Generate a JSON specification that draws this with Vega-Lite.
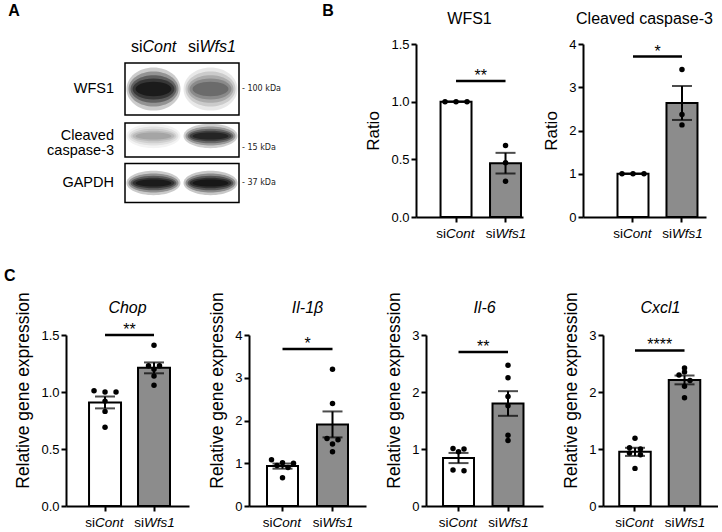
{
 "$schema": "https://vega.github.io/schema/vega-lite/v6.json",
 "background": "white",
 "padding": {"left": 3, "top": 2, "right": 0, "bottom": 0},
 "config": {
  "font": "Liberation Sans",
  "view": {"stroke": null},
  "axis": {"domainColor": "black", "domainWidth": 2, "tickColor": "black", "tickWidth": 2, "tickSize": 5, "labelColor": "black", "labelFontSize": 13, "labelPadding": 2, "titleColor": "black", "titleFontSize": 17, "titleFontWeight": "normal", "grid": false, "titlePadding": 8},
  "title": {"fontSize": 16, "fontWeight": "normal", "color": "black"}
 },
 "datasets": {
  "points": [
   {"panel": "WFS1", "group": "siCont", "value": 1.0},
   {"panel": "WFS1", "group": "siCont", "value": 1.0},
   {"panel": "WFS1", "group": "siCont", "value": 1.0},
   {"panel": "WFS1", "group": "siWfs1", "value": 0.62},
   {"panel": "WFS1", "group": "siWfs1", "value": 0.47},
   {"panel": "WFS1", "group": "siWfs1", "value": 0.31},
   {"panel": "Casp3", "group": "siCont", "value": 1.0},
   {"panel": "Casp3", "group": "siCont", "value": 1.0},
   {"panel": "Casp3", "group": "siCont", "value": 1.0},
   {"panel": "Casp3", "group": "siWfs1", "value": 3.41},
   {"panel": "Casp3", "group": "siWfs1", "value": 2.37},
   {"panel": "Casp3", "group": "siWfs1", "value": 2.13},
   {"panel": "Chop", "group": "siCont", "value": 1.01},
   {"panel": "Chop", "group": "siCont", "value": 1.0},
   {"panel": "Chop", "group": "siCont", "value": 1.0},
   {"panel": "Chop", "group": "siCont", "value": 0.92},
   {"panel": "Chop", "group": "siCont", "value": 0.83},
   {"panel": "Chop", "group": "siCont", "value": 0.69},
   {"panel": "Chop", "group": "siWfs1", "value": 1.41},
   {"panel": "Chop", "group": "siWfs1", "value": 1.23},
   {"panel": "Chop", "group": "siWfs1", "value": 1.23},
   {"panel": "Chop", "group": "siWfs1", "value": 1.2},
   {"panel": "Chop", "group": "siWfs1", "value": 1.14},
   {"panel": "Chop", "group": "siWfs1", "value": 1.06},
   {"panel": "Il1b", "group": "siCont", "value": 1.08},
   {"panel": "Il1b", "group": "siCont", "value": 1.01},
   {"panel": "Il1b", "group": "siCont", "value": 1.0},
   {"panel": "Il1b", "group": "siCont", "value": 0.95},
   {"panel": "Il1b", "group": "siCont", "value": 0.9},
   {"panel": "Il1b", "group": "siCont", "value": 0.66},
   {"panel": "Il1b", "group": "siWfs1", "value": 3.2},
   {"panel": "Il1b", "group": "siWfs1", "value": 2.4},
   {"panel": "Il1b", "group": "siWfs1", "value": 1.58},
   {"panel": "Il1b", "group": "siWfs1", "value": 1.55},
   {"panel": "Il1b", "group": "siWfs1", "value": 1.45},
   {"panel": "Il1b", "group": "siWfs1", "value": 1.27},
   {"panel": "Il6", "group": "siCont", "value": 1.01},
   {"panel": "Il6", "group": "siCont", "value": 1.0},
   {"panel": "Il6", "group": "siCont", "value": 0.95},
   {"panel": "Il6", "group": "siCont", "value": 0.63},
   {"panel": "Il6", "group": "siCont", "value": 0.62},
   {"panel": "Il6", "group": "siWfs1", "value": 2.47},
   {"panel": "Il6", "group": "siWfs1", "value": 2.25},
   {"panel": "Il6", "group": "siWfs1", "value": 1.92},
   {"panel": "Il6", "group": "siWfs1", "value": 1.76},
   {"panel": "Il6", "group": "siWfs1", "value": 1.24},
   {"panel": "Il6", "group": "siWfs1", "value": 1.15},
   {"panel": "Cxcl1", "group": "siCont", "value": 1.19},
   {"panel": "Cxcl1", "group": "siCont", "value": 1.02},
   {"panel": "Cxcl1", "group": "siCont", "value": 1.0},
   {"panel": "Cxcl1", "group": "siCont", "value": 0.93},
   {"panel": "Cxcl1", "group": "siCont", "value": 0.9},
   {"panel": "Cxcl1", "group": "siCont", "value": 0.66},
   {"panel": "Cxcl1", "group": "siWfs1", "value": 2.42},
   {"panel": "Cxcl1", "group": "siWfs1", "value": 2.35},
   {"panel": "Cxcl1", "group": "siWfs1", "value": 2.3},
   {"panel": "Cxcl1", "group": "siWfs1", "value": 2.2},
   {"panel": "Cxcl1", "group": "siWfs1", "value": 2.1},
   {"panel": "Cxcl1", "group": "siWfs1", "value": 1.9}
  ],
  "sig": [
   {"panel": "WFS1", "y": 1.18, "stars": "**"},
   {"panel": "Casp3", "y": 3.71, "stars": "*"},
   {"panel": "Chop", "y": 1.5, "stars": "**"},
   {"panel": "Il1b", "y": 3.67, "stars": "*"},
   {"panel": "Il6", "y": 2.7, "stars": "**"},
   {"panel": "Cxcl1", "y": 2.73, "stars": "****"}
  ],
  "blot": [
   {"protein": "WFS1", "lane": "siCont", "intensity": 1.0, "kda": "- 100 kDa"},
   {"protein": "WFS1", "lane": "siWfs1", "intensity": 0.45, "kda": "- 100 kDa"},
   {"protein": "Cleaved caspase-3", "lane": "siCont", "intensity": 0.22, "kda": "- 15 kDa"},
   {"protein": "Cleaved caspase-3", "lane": "siWfs1", "intensity": 0.85, "kda": "- 15 kDa"},
   {"protein": "GAPDH", "lane": "siCont", "intensity": 0.95, "kda": "- 37 kDa"},
   {"protein": "GAPDH", "lane": "siWfs1", "intensity": 1.0, "kda": "- 37 kDa"}
  ]
 },
 "spacing": 26,
 "vconcat": [
  {
   "hconcat": [
    {
     "width": 290, "height": 173,
     "data": {"name": "blot"},
     "encoding": {
      "x": {"field": "lane", "type": "nominal", "scale": {"domain": ["siCont", "siWfs1"], "range": [59, 173], "paddingInner": 0, "paddingOuter": 0}, "axis": null},
      "y": {"field": "protein", "type": "nominal", "scale": {"domain": ["WFS1", "Cleaved caspase-3", "GAPDH"], "paddingInner": 0, "paddingOuter": 0.34, "align": 0.672}, "axis": null}
     },
     "layer": [
      {"transform": [{"filter": "datum.lane === 'siCont' && datum.protein === 'WFS1'"}], "mark": {"type": "rect", "fill": "white", "stroke": "black", "strokeWidth": 1.5}, "encoding": {"x": {"datum": "siCont", "bandPosition": 0}, "x2": {"datum": "siWfs1", "bandPosition": 1}, "y": {"field": "protein", "type": "nominal", "bandPosition": -0.053}, "y2": {"field": "protein", "bandPosition": 1.053}}},
      {"transform": [{"filter": "datum.lane === 'siCont' && datum.protein === 'Cleaved caspase-3'"}], "mark": {"type": "rect", "fill": "white", "stroke": "black", "strokeWidth": 1.5}, "encoding": {"x": {"datum": "siCont", "bandPosition": 0}, "x2": {"datum": "siWfs1", "bandPosition": 1}, "y": {"field": "protein", "type": "nominal", "bandPosition": 0.223}, "y2": {"field": "protein", "bandPosition": 0.947}}},
      {"transform": [{"filter": "datum.lane === 'siCont' && datum.protein === 'GAPDH'"}], "mark": {"type": "rect", "fill": "white", "stroke": "black", "strokeWidth": 1.5}, "encoding": {"x": {"datum": "siCont", "bandPosition": 0}, "x2": {"datum": "siWfs1", "bandPosition": 1}, "y": {"field": "protein", "type": "nominal", "bandPosition": 0.085}, "y2": {"field": "protein", "bandPosition": 0.915}}},
      {"transform": [{"filter": "datum.protein === 'WFS1'"}], "mark": {"type": "point", "filled": true, "color": "black", "strokeWidth": 0, "shape": "M-1,0A1,0.8,0,1,1,1,0A1,0.8,0,1,1,-1,0Z", "size": 2916}, "encoding": {"opacity": {"field": "intensity", "type": "quantitative", "scale": {"domain": [0, 1], "range": [0, 0.2]}, "legend": null}}},
      {"transform": [{"filter": "datum.protein === 'WFS1'"}], "mark": {"type": "point", "filled": true, "color": "black", "strokeWidth": 0, "shape": "M-1,0A1,0.7,0,1,1,1,0A1,0.7,0,1,1,-1,0Z", "size": 2500}, "encoding": {"opacity": {"field": "intensity", "type": "quantitative", "scale": {"domain": [0, 1], "range": [0, 0.28]}, "legend": null}}},
      {"transform": [{"filter": "datum.protein === 'WFS1'"}], "mark": {"type": "point", "filled": true, "color": "black", "strokeWidth": 0, "shape": "M-1,0A1,0.6,0,1,1,1,0A1,0.6,0,1,1,-1,0Z", "size": 2116}, "encoding": {"opacity": {"field": "intensity", "type": "quantitative", "scale": {"domain": [0, 1], "range": [0, 0.35]}, "legend": null}}},
      {"transform": [{"filter": "datum.protein === 'WFS1'"}], "mark": {"type": "point", "filled": true, "color": "black", "strokeWidth": 0, "shape": "M-1,0A1,0.5,0,1,1,1,0A1,0.5,0,1,1,-1,0Z", "size": 1764}, "encoding": {"opacity": {"field": "intensity", "type": "quantitative", "scale": {"domain": [0, 1], "range": [0, 0.42]}, "legend": null}}},
      {"transform": [{"filter": "datum.protein === 'WFS1'"}], "mark": {"type": "point", "filled": true, "color": "black", "strokeWidth": 0, "shape": "M-1,0A1,0.4,0,1,1,1,0A1,0.4,0,1,1,-1,0Z", "size": 1296}, "encoding": {"opacity": {"field": "intensity", "type": "quantitative", "scale": {"domain": [0, 1], "range": [0, 0.5]}, "legend": null}}},
      {"transform": [{"filter": "datum.protein !== 'WFS1'"}], "mark": {"type": "point", "filled": true, "color": "black", "strokeWidth": 0, "shape": "M-1,0A1,0.45,0,1,1,1,0A1,0.45,0,1,1,-1,0Z", "size": 2916}, "encoding": {"opacity": {"field": "intensity", "type": "quantitative", "scale": {"domain": [0, 1], "range": [0, 0.22]}, "legend": null}}},
      {"transform": [{"filter": "datum.protein !== 'WFS1'"}], "mark": {"type": "point", "filled": true, "color": "black", "strokeWidth": 0, "shape": "M-1,0A1,0.38,0,1,1,1,0A1,0.38,0,1,1,-1,0Z", "size": 2500}, "encoding": {"opacity": {"field": "intensity", "type": "quantitative", "scale": {"domain": [0, 1], "range": [0, 0.3]}, "legend": null}}},
      {"transform": [{"filter": "datum.protein !== 'WFS1'"}], "mark": {"type": "point", "filled": true, "color": "black", "strokeWidth": 0, "shape": "M-1,0A1,0.32,0,1,1,1,0A1,0.32,0,1,1,-1,0Z", "size": 2116}, "encoding": {"opacity": {"field": "intensity", "type": "quantitative", "scale": {"domain": [0, 1], "range": [0, 0.38]}, "legend": null}}},
      {"transform": [{"filter": "datum.protein !== 'WFS1'"}], "mark": {"type": "point", "filled": true, "color": "black", "strokeWidth": 0, "shape": "M-1,0A1,0.25,0,1,1,1,0A1,0.25,0,1,1,-1,0Z", "size": 1764}, "encoding": {"opacity": {"field": "intensity", "type": "quantitative", "scale": {"domain": [0, 1], "range": [0, 0.45]}, "legend": null}}},
      {"transform": [{"filter": "datum.protein !== 'WFS1'"}], "mark": {"type": "point", "filled": true, "color": "black", "strokeWidth": 0, "shape": "M-1,0A1,0.2,0,1,1,1,0A1,0.2,0,1,1,-1,0Z", "size": 1296}, "encoding": {"opacity": {"field": "intensity", "type": "quantitative", "scale": {"domain": [0, 1], "range": [0, 0.5]}, "legend": null}}},
      {"transform": [{"filter": "datum.lane === 'siCont'"}], "mark": {"type": "text", "align": "right", "baseline": "middle", "dx": -11, "fontSize": 14.5, "lineBreak": " ", "lineHeight": 15, "color": "black"}, "encoding": {"x": {"datum": "siCont", "bandPosition": 0}, "text": {"field": "protein"}}},
      {"transform": [{"filter": "datum.lane === 'siCont' && datum.protein !== 'Cleaved caspase-3'"}], "mark": {"type": "text", "align": "left", "baseline": "middle", "dx": 3, "fontSize": 8, "font": "DejaVu Sans", "color": "#222"}, "encoding": {"x": {"datum": "siWfs1", "bandPosition": 1}, "text": {"field": "kda"}}},
      {"transform": [{"filter": "datum.lane === 'siCont' && datum.protein === 'Cleaved caspase-3'"}], "mark": {"type": "text", "align": "left", "baseline": "middle", "dx": 3, "dy": 12, "fontSize": 8, "font": "DejaVu Sans", "color": "#222"}, "encoding": {"x": {"datum": "siWfs1", "bandPosition": 1}, "text": {"field": "kda"}}},
      {"transform": [{"filter": "datum.protein === 'WFS1'"}], "mark": {"type": "text", "text": "si", "align": "right", "baseline": "alphabetic", "dx": -11, "dy": -37, "fontSize": 16, "color": "black"}, "encoding": {"y": {"datum": "WFS1"}}},
      {"transform": [{"filter": "datum.protein === 'WFS1'"}, {"calculate": "substring(datum.lane, 2)", "as": "suf"}], "mark": {"type": "text", "align": "left", "baseline": "alphabetic", "dx": -11, "dy": -37, "fontSize": 16, "fontStyle": "italic", "color": "black"}, "encoding": {"y": {"datum": "WFS1"}, "text": {"field": "suf"}}},
      {"transform": [{"filter": "datum.protein === 'WFS1' && datum.lane === 'siCont'"}], "mark": {"type": "text", "text": "A", "align": "center", "baseline": "alphabetic", "dx": -139.5, "dy": -73, "fontSize": 16, "fontWeight": "bold", "color": "black"}, "encoding": {"x": {"datum": "siCont"}, "y": {"datum": "WFS1"}}},
      {"transform": [{"filter": "datum.protein === 'WFS1' && datum.lane === 'siCont'"}], "mark": {"type": "text", "text": "B", "align": "center", "baseline": "alphabetic", "dx": 89, "dy": -73, "fontSize": 16, "fontWeight": "bold", "color": "black"}, "encoding": {"x": {"datum": "siWfs1", "bandPosition": 1}, "y": {"datum": "WFS1"}}}
     ],
     "resolve": {"scale": {"opacity": "independent"}}
    },
    {
     "width": 107, "height": 173,
     "title": {"text": "WFS1", "offset": 11},
     "data": {"name": "points"},
     "encoding": {"x": {"field": "group", "type": "nominal", "scale": {"domain": ["siCont", "siWfs1"], "paddingInner": 0.374, "paddingOuter": 0.268, "align": 0.925}, "axis": {"labels": false, "title": null}}},
     "layer": [
      {"transform": [{"filter": "datum.panel === 'WFS1'"}], "mark": {"type": "bar", "stroke": "black", "strokeWidth": 2}, "encoding": {"y": {"aggregate": "mean", "field": "value", "type": "quantitative", "title": "Ratio", "scale": {"domain": [0, 1.5], "nice": false}, "axis": {"values": [0, 0.5, 1, 1.5], "format": ".1f"}}, "fill": {"field": "group", "type": "nominal", "scale": {"domain": ["siCont", "siWfs1"], "range": ["#ffffff", "#8c8c8c"]}, "legend": null}}},
      {"transform": [{"filter": "datum.panel === 'WFS1'"}, {"calculate": "floor(datum.value / 0.05)", "as": "ybin"}, {"window": [{"op": "row_number", "as": "r"}, {"op": "count", "as": "n"}], "groupby": ["group", "ybin"], "frame": [null, null]}, {"calculate": "datum.r - (datum.n + 1) / 2", "as": "off"}], "mark": {"type": "point", "filled": true, "color": "black", "opacity": 1, "size": 30}, "encoding": {"y": {"field": "value", "type": "quantitative", "title": "Ratio", "scale": {"domain": [0, 1.5], "nice": false}}, "xOffset": {"field": "off", "type": "quantitative", "scale": {"domain": [-1, 1], "range": [4.5, 26.5]}}}},
      {"transform": [{"filter": "datum.panel === 'WFS1'"}], "mark": {"type": "errorbar", "extent": "stderr", "color": "black", "thickness": 2, "ticks": {"size": 20}}, "encoding": {"y": {"field": "value", "type": "quantitative", "title": "Ratio", "scale": {"domain": [0, 1.5], "nice": false}}}},
      {"data": {"name": "sig"}, "transform": [{"filter": "datum.panel === 'WFS1'"}], "mark": {"type": "rule", "color": "black", "strokeWidth": 2.5}, "encoding": {"x": {"datum": "siCont"}, "x2": {"datum": "siWfs1"}, "y": {"field": "y", "type": "quantitative", "title": "Ratio", "scale": {"domain": [0, 1.5], "nice": false}}}},
      {"data": {"name": "sig"}, "transform": [{"filter": "datum.panel === 'WFS1'"}], "mark": {"type": "text", "align": "center", "baseline": "alphabetic", "dx": 24.75, "fontSize": 16, "color": "black"}, "encoding": {"x": {"datum": "siCont"}, "y": {"field": "y", "type": "quantitative", "title": "Ratio", "scale": {"domain": [0, 1.5], "nice": false}}, "text": {"field": "stars"}}},
      {"transform": [{"filter": "datum.panel === 'WFS1'"}, {"aggregate": [{"op": "count", "as": "n"}], "groupby": ["group"]}], "mark": {"type": "text", "text": "si", "align": "right", "baseline": "alphabetic", "dx": -10, "dy": 21, "fontSize": 13.5, "color": "black"}, "encoding": {"y": {"datum": 0, "type": "quantitative", "scale": {"domain": [0, 1.5], "nice": false}}}},
      {"transform": [{"filter": "datum.panel === 'WFS1'"}, {"aggregate": [{"op": "count", "as": "n"}], "groupby": ["group"]}, {"calculate": "substring(datum.group, 2)", "as": "suf"}], "mark": {"type": "text", "align": "left", "baseline": "alphabetic", "dx": -10, "dy": 21, "fontSize": 13.5, "fontStyle": "italic", "color": "black"}, "encoding": {"y": {"datum": 0, "type": "quantitative", "scale": {"domain": [0, 1.5], "nice": false}}, "text": {"field": "suf"}}}
     ],
     "resolve": {"scale": {"xOffset": "independent"}}
    },
    {
     "width": 123, "height": 173,
     "title": {"text": "Cleaved caspase-3", "offset": 11},
     "data": {"name": "points"},
     "encoding": {"x": {"field": "group", "type": "nominal", "scale": {"domain": ["siCont", "siWfs1"], "paddingInner": 0.367, "paddingOuter": 0.439, "align": 0.802}, "axis": {"labels": false, "title": null}}},
     "layer": [
      {"transform": [{"filter": "datum.panel === 'Casp3'"}], "mark": {"type": "bar", "stroke": "black", "strokeWidth": 2}, "encoding": {"y": {"aggregate": "mean", "field": "value", "type": "quantitative", "title": "Ratio", "scale": {"domain": [0, 4], "nice": false}, "axis": {"values": [0, 1, 2, 3, 4], "format": "d"}}, "fill": {"field": "group", "type": "nominal", "scale": {"domain": ["siCont", "siWfs1"], "range": ["#ffffff", "#8c8c8c"]}, "legend": null}}},
      {"transform": [{"filter": "datum.panel === 'Casp3'"}, {"calculate": "floor(datum.value / 0.14)", "as": "ybin"}, {"window": [{"op": "row_number", "as": "r"}, {"op": "count", "as": "n"}], "groupby": ["group", "ybin"], "frame": [null, null]}, {"calculate": "datum.r - (datum.n + 1) / 2", "as": "off"}], "mark": {"type": "point", "filled": true, "color": "black", "opacity": 1, "size": 30}, "encoding": {"y": {"field": "value", "type": "quantitative", "title": "Ratio", "scale": {"domain": [0, 4], "nice": false}}, "xOffset": {"field": "off", "type": "quantitative", "scale": {"domain": [-1, 1], "range": [4.5, 26.5]}}}},
      {"transform": [{"filter": "datum.panel === 'Casp3'"}], "mark": {"type": "errorbar", "extent": "stderr", "color": "black", "thickness": 2, "ticks": {"size": 20}}, "encoding": {"y": {"field": "value", "type": "quantitative", "title": "Ratio", "scale": {"domain": [0, 4], "nice": false}}}},
      {"data": {"name": "sig"}, "transform": [{"filter": "datum.panel === 'Casp3'"}], "mark": {"type": "rule", "color": "black", "strokeWidth": 2.5}, "encoding": {"x": {"datum": "siCont"}, "x2": {"datum": "siWfs1"}, "y": {"field": "y", "type": "quantitative", "title": "Ratio", "scale": {"domain": [0, 4], "nice": false}}}},
      {"data": {"name": "sig"}, "transform": [{"filter": "datum.panel === 'Casp3'"}], "mark": {"type": "text", "align": "center", "baseline": "alphabetic", "dx": 24.5, "fontSize": 16, "color": "black"}, "encoding": {"x": {"datum": "siCont"}, "y": {"field": "y", "type": "quantitative", "title": "Ratio", "scale": {"domain": [0, 4], "nice": false}}, "text": {"field": "stars"}}},
      {"transform": [{"filter": "datum.panel === 'Casp3'"}, {"aggregate": [{"op": "count", "as": "n"}], "groupby": ["group"]}], "mark": {"type": "text", "text": "si", "align": "right", "baseline": "alphabetic", "dx": -10, "dy": 21, "fontSize": 13.5, "color": "black"}, "encoding": {"y": {"datum": 0, "type": "quantitative", "scale": {"domain": [0, 4], "nice": false}}}},
      {"transform": [{"filter": "datum.panel === 'Casp3'"}, {"aggregate": [{"op": "count", "as": "n"}], "groupby": ["group"]}, {"calculate": "substring(datum.group, 2)", "as": "suf"}], "mark": {"type": "text", "align": "left", "baseline": "alphabetic", "dx": -10, "dy": 21, "fontSize": 13.5, "fontStyle": "italic", "color": "black"}, "encoding": {"y": {"datum": 0, "type": "quantitative", "scale": {"domain": [0, 4], "nice": false}}, "text": {"field": "suf"}}}
     ],
     "resolve": {"scale": {"xOffset": "independent"}}
    }
   ],
   "spacing": 60,
   "bounds": "flush"
  },
  {
   "title": {"text": "C", "anchor": "start", "frame": "bounds", "fontWeight": "bold", "fontSize": 16, "offset": 8, "dx": -11},
   "hconcat": [
    {
     "width": 123, "height": 171,
     "title": {"text": "Chop", "fontStyle": "italic", "offset": -24},
     "data": {"name": "points"},
     "encoding": {"x": {"field": "group", "type": "nominal", "scale": {"domain": ["siCont", "siWfs1"], "paddingInner": 0.347, "paddingOuter": 0.429, "align": 0.548}, "axis": {"labels": false, "title": null}}},
     "layer": [
      {"transform": [{"filter": "datum.panel === 'Chop'"}], "mark": {"type": "bar", "stroke": "black", "strokeWidth": 2}, "encoding": {"y": {"aggregate": "mean", "field": "value", "type": "quantitative", "title": "Relative gene expression", "scale": {"domain": [0, 1.5], "nice": false}, "axis": {"values": [0, 0.5, 1, 1.5], "format": ".1f", "titleY": 55, "titleFontSize": 17.5}}, "fill": {"field": "group", "type": "nominal", "scale": {"domain": ["siCont", "siWfs1"], "range": ["#ffffff", "#8c8c8c"]}, "legend": null}}},
      {"transform": [{"filter": "datum.panel === 'Chop'"}, {"calculate": "floor(datum.value / 0.05)", "as": "ybin"}, {"window": [{"op": "row_number", "as": "r"}, {"op": "count", "as": "n"}], "groupby": ["group", "ybin"], "frame": [null, null]}, {"calculate": "datum.r - (datum.n + 1) / 2", "as": "off"}], "mark": {"type": "point", "filled": true, "color": "black", "opacity": 1, "size": 30}, "encoding": {"y": {"field": "value", "type": "quantitative", "title": "Relative gene expression", "scale": {"domain": [0, 1.5], "nice": false}}, "xOffset": {"field": "off", "type": "quantitative", "scale": {"domain": [-1, 1], "range": [5, 27]}}}},
      {"transform": [{"filter": "datum.panel === 'Chop'"}], "mark": {"type": "errorbar", "extent": "stderr", "color": "black", "thickness": 2, "ticks": {"size": 20}}, "encoding": {"y": {"field": "value", "type": "quantitative", "title": "Relative gene expression", "scale": {"domain": [0, 1.5], "nice": false}}}},
      {"data": {"name": "sig"}, "transform": [{"filter": "datum.panel === 'Chop'"}], "mark": {"type": "rule", "color": "black", "strokeWidth": 2.5}, "encoding": {"x": {"datum": "siCont"}, "x2": {"datum": "siWfs1"}, "y": {"field": "y", "type": "quantitative", "title": "Relative gene expression", "scale": {"domain": [0, 1.5], "nice": false}}}},
      {"data": {"name": "sig"}, "transform": [{"filter": "datum.panel === 'Chop'"}], "mark": {"type": "text", "align": "center", "baseline": "alphabetic", "dx": 24.5, "fontSize": 16, "color": "black"}, "encoding": {"x": {"datum": "siCont"}, "y": {"field": "y", "type": "quantitative", "title": "Relative gene expression", "scale": {"domain": [0, 1.5], "nice": false}}, "text": {"field": "stars"}}},
      {"transform": [{"filter": "datum.panel === 'Chop'"}, {"aggregate": [{"op": "count", "as": "n"}], "groupby": ["group"]}], "mark": {"type": "text", "text": "si", "align": "right", "baseline": "alphabetic", "dx": -10, "dy": 21, "fontSize": 13.5, "color": "black"}, "encoding": {"y": {"datum": 0, "type": "quantitative", "scale": {"domain": [0, 1.5], "nice": false}}}},
      {"transform": [{"filter": "datum.panel === 'Chop'"}, {"aggregate": [{"op": "count", "as": "n"}], "groupby": ["group"]}, {"calculate": "substring(datum.group, 2)", "as": "suf"}], "mark": {"type": "text", "align": "left", "baseline": "alphabetic", "dx": -10, "dy": 21, "fontSize": 13.5, "fontStyle": "italic", "color": "black"}, "encoding": {"y": {"datum": 0, "type": "quantitative", "scale": {"domain": [0, 1.5], "nice": false}}, "text": {"field": "suf"}}}
     ],
     "resolve": {"scale": {"xOffset": "independent"}}
    },
    {
     "width": 117, "height": 171,
     "title": {"text": "Il-1β", "fontStyle": "italic", "offset": -24},
     "data": {"name": "points"},
     "encoding": {"x": {"field": "group", "type": "nominal", "scale": {"domain": ["siCont", "siWfs1"], "paddingInner": 0.38, "paddingOuter": 0.36, "align": 0.5}, "axis": {"labels": false, "title": null}}},
     "layer": [
      {"transform": [{"filter": "datum.panel === 'Il1b'"}], "mark": {"type": "bar", "stroke": "black", "strokeWidth": 2}, "encoding": {"y": {"aggregate": "mean", "field": "value", "type": "quantitative", "title": "Relative gene expression", "scale": {"domain": [0, 4], "nice": false}, "axis": {"values": [0, 1, 2, 3, 4], "format": "d", "titleY": 55, "titleFontSize": 17.5}}, "fill": {"field": "group", "type": "nominal", "scale": {"domain": ["siCont", "siWfs1"], "range": ["#ffffff", "#8c8c8c"]}, "legend": null}}},
      {"transform": [{"filter": "datum.panel === 'Il1b'"}, {"calculate": "floor(datum.value / 0.14)", "as": "ybin"}, {"window": [{"op": "row_number", "as": "r"}, {"op": "count", "as": "n"}], "groupby": ["group", "ybin"], "frame": [null, null]}, {"calculate": "datum.r - (datum.n + 1) / 2", "as": "off"}], "mark": {"type": "point", "filled": true, "color": "black", "opacity": 1, "size": 30}, "encoding": {"y": {"field": "value", "type": "quantitative", "title": "Relative gene expression", "scale": {"domain": [0, 4], "nice": false}}, "xOffset": {"field": "off", "type": "quantitative", "scale": {"domain": [-1, 1], "range": [4.5, 26.5]}}}},
      {"transform": [{"filter": "datum.panel === 'Il1b'"}], "mark": {"type": "errorbar", "extent": "stderr", "color": "black", "thickness": 2, "ticks": {"size": 20}}, "encoding": {"y": {"field": "value", "type": "quantitative", "title": "Relative gene expression", "scale": {"domain": [0, 4], "nice": false}}}},
      {"data": {"name": "sig"}, "transform": [{"filter": "datum.panel === 'Il1b'"}], "mark": {"type": "rule", "color": "black", "strokeWidth": 2.5}, "encoding": {"x": {"datum": "siCont"}, "x2": {"datum": "siWfs1"}, "y": {"field": "y", "type": "quantitative", "title": "Relative gene expression", "scale": {"domain": [0, 4], "nice": false}}}},
      {"data": {"name": "sig"}, "transform": [{"filter": "datum.panel === 'Il1b'"}], "mark": {"type": "text", "align": "center", "baseline": "alphabetic", "dx": 25, "fontSize": 16, "color": "black"}, "encoding": {"x": {"datum": "siCont"}, "y": {"field": "y", "type": "quantitative", "title": "Relative gene expression", "scale": {"domain": [0, 4], "nice": false}}, "text": {"field": "stars"}}},
      {"transform": [{"filter": "datum.panel === 'Il1b'"}, {"aggregate": [{"op": "count", "as": "n"}], "groupby": ["group"]}], "mark": {"type": "text", "text": "si", "align": "right", "baseline": "alphabetic", "dx": -10, "dy": 21, "fontSize": 13.5, "color": "black"}, "encoding": {"y": {"datum": 0, "type": "quantitative", "scale": {"domain": [0, 4], "nice": false}}}},
      {"transform": [{"filter": "datum.panel === 'Il1b'"}, {"aggregate": [{"op": "count", "as": "n"}], "groupby": ["group"]}, {"calculate": "substring(datum.group, 2)", "as": "suf"}], "mark": {"type": "text", "align": "left", "baseline": "alphabetic", "dx": -10, "dy": 21, "fontSize": 13.5, "fontStyle": "italic", "color": "black"}, "encoding": {"y": {"datum": 0, "type": "quantitative", "scale": {"domain": [0, 4], "nice": false}}, "text": {"field": "suf"}}}
     ],
     "resolve": {"scale": {"xOffset": "independent"}}
    },
    {
     "width": 117, "height": 171,
     "title": {"text": "Il-6", "fontStyle": "italic", "offset": -24},
     "data": {"name": "points"},
     "encoding": {"x": {"field": "group", "type": "nominal", "scale": {"domain": ["siCont", "siWfs1"], "paddingInner": 0.374, "paddingOuter": 0.369, "align": 0.466}, "axis": {"labels": false, "title": null}}},
     "layer": [
      {"transform": [{"filter": "datum.panel === 'Il6'"}], "mark": {"type": "bar", "stroke": "black", "strokeWidth": 2}, "encoding": {"y": {"aggregate": "mean", "field": "value", "type": "quantitative", "title": "Relative gene expression", "scale": {"domain": [0, 3], "nice": false}, "axis": {"values": [0, 1, 2, 3], "format": "d", "titleY": 55, "titleFontSize": 17.5}}, "fill": {"field": "group", "type": "nominal", "scale": {"domain": ["siCont", "siWfs1"], "range": ["#ffffff", "#8c8c8c"]}, "legend": null}}},
      {"transform": [{"filter": "datum.panel === 'Il6'"}, {"calculate": "floor(datum.value / 0.1)", "as": "ybin"}, {"window": [{"op": "row_number", "as": "r"}, {"op": "count", "as": "n"}], "groupby": ["group", "ybin"], "frame": [null, null]}, {"calculate": "datum.r - (datum.n + 1) / 2", "as": "off"}], "mark": {"type": "point", "filled": true, "color": "black", "opacity": 1, "size": 30}, "encoding": {"y": {"field": "value", "type": "quantitative", "title": "Relative gene expression", "scale": {"domain": [0, 3], "nice": false}}, "xOffset": {"field": "off", "type": "quantitative", "scale": {"domain": [-1, 1], "range": [4.5, 26.5]}}}},
      {"transform": [{"filter": "datum.panel === 'Il6'"}], "mark": {"type": "errorbar", "extent": "stderr", "color": "black", "thickness": 2, "ticks": {"size": 20}}, "encoding": {"y": {"field": "value", "type": "quantitative", "title": "Relative gene expression", "scale": {"domain": [0, 3], "nice": false}}}},
      {"data": {"name": "sig"}, "transform": [{"filter": "datum.panel === 'Il6'"}], "mark": {"type": "rule", "color": "black", "strokeWidth": 2.5}, "encoding": {"x": {"datum": "siCont"}, "x2": {"datum": "siWfs1"}, "y": {"field": "y", "type": "quantitative", "title": "Relative gene expression", "scale": {"domain": [0, 3], "nice": false}}}},
      {"data": {"name": "sig"}, "transform": [{"filter": "datum.panel === 'Il6'"}], "mark": {"type": "text", "align": "center", "baseline": "alphabetic", "dx": 24.75, "fontSize": 16, "color": "black"}, "encoding": {"x": {"datum": "siCont"}, "y": {"field": "y", "type": "quantitative", "title": "Relative gene expression", "scale": {"domain": [0, 3], "nice": false}}, "text": {"field": "stars"}}},
      {"transform": [{"filter": "datum.panel === 'Il6'"}, {"aggregate": [{"op": "count", "as": "n"}], "groupby": ["group"]}], "mark": {"type": "text", "text": "si", "align": "right", "baseline": "alphabetic", "dx": -10, "dy": 21, "fontSize": 13.5, "color": "black"}, "encoding": {"y": {"datum": 0, "type": "quantitative", "scale": {"domain": [0, 3], "nice": false}}}},
      {"transform": [{"filter": "datum.panel === 'Il6'"}, {"aggregate": [{"op": "count", "as": "n"}], "groupby": ["group"]}, {"calculate": "substring(datum.group, 2)", "as": "suf"}], "mark": {"type": "text", "align": "left", "baseline": "alphabetic", "dx": -10, "dy": 21, "fontSize": 13.5, "fontStyle": "italic", "color": "black"}, "encoding": {"y": {"datum": 0, "type": "quantitative", "scale": {"domain": [0, 3], "nice": false}}, "text": {"field": "suf"}}}
     ],
     "resolve": {"scale": {"xOffset": "independent"}}
    },
    {
     "width": 115, "height": 171,
     "title": {"text": "Cxcl1", "fontStyle": "italic", "offset": -24},
     "data": {"name": "points"},
     "encoding": {"x": {"field": "group", "type": "nominal", "scale": {"domain": ["siCont", "siWfs1"], "paddingInner": 0.364, "paddingOuter": 0.343, "align": 0.478}, "axis": {"labels": false, "title": null}}},
     "layer": [
      {"transform": [{"filter": "datum.panel === 'Cxcl1'"}], "mark": {"type": "bar", "stroke": "black", "strokeWidth": 2}, "encoding": {"y": {"aggregate": "mean", "field": "value", "type": "quantitative", "title": "Relative gene expression", "scale": {"domain": [0, 3], "nice": false}, "axis": {"values": [0, 1, 2, 3], "format": "d", "titleY": 55, "titleFontSize": 17.5}}, "fill": {"field": "group", "type": "nominal", "scale": {"domain": ["siCont", "siWfs1"], "range": ["#ffffff", "#8c8c8c"]}, "legend": null}}},
      {"transform": [{"filter": "datum.panel === 'Cxcl1'"}, {"calculate": "floor(datum.value / 0.1)", "as": "ybin"}, {"window": [{"op": "row_number", "as": "r"}, {"op": "count", "as": "n"}], "groupby": ["group", "ybin"], "frame": [null, null]}, {"calculate": "datum.r - (datum.n + 1) / 2", "as": "off"}], "mark": {"type": "point", "filled": true, "color": "black", "opacity": 1, "size": 30}, "encoding": {"y": {"field": "value", "type": "quantitative", "title": "Relative gene expression", "scale": {"domain": [0, 3], "nice": false}}, "xOffset": {"field": "off", "type": "quantitative", "scale": {"domain": [-1, 1], "range": [4.75, 26.75]}}}},
      {"transform": [{"filter": "datum.panel === 'Cxcl1'"}], "mark": {"type": "errorbar", "extent": "stderr", "color": "black", "thickness": 2, "ticks": {"size": 20}}, "encoding": {"y": {"field": "value", "type": "quantitative", "title": "Relative gene expression", "scale": {"domain": [0, 3], "nice": false}}}},
      {"data": {"name": "sig"}, "transform": [{"filter": "datum.panel === 'Cxcl1'"}], "mark": {"type": "rule", "color": "black", "strokeWidth": 2.5}, "encoding": {"x": {"datum": "siCont"}, "x2": {"datum": "siWfs1"}, "y": {"field": "y", "type": "quantitative", "title": "Relative gene expression", "scale": {"domain": [0, 3], "nice": false}}}},
      {"data": {"name": "sig"}, "transform": [{"filter": "datum.panel === 'Cxcl1'"}], "mark": {"type": "text", "align": "center", "baseline": "alphabetic", "dx": 24.75, "fontSize": 16, "color": "black"}, "encoding": {"x": {"datum": "siCont"}, "y": {"field": "y", "type": "quantitative", "title": "Relative gene expression", "scale": {"domain": [0, 3], "nice": false}}, "text": {"field": "stars"}}},
      {"transform": [{"filter": "datum.panel === 'Cxcl1'"}, {"aggregate": [{"op": "count", "as": "n"}], "groupby": ["group"]}], "mark": {"type": "text", "text": "si", "align": "right", "baseline": "alphabetic", "dx": -10, "dy": 21, "fontSize": 13.5, "color": "black"}, "encoding": {"y": {"datum": 0, "type": "quantitative", "scale": {"domain": [0, 3], "nice": false}}}},
      {"transform": [{"filter": "datum.panel === 'Cxcl1'"}, {"aggregate": [{"op": "count", "as": "n"}], "groupby": ["group"]}, {"calculate": "substring(datum.group, 2)", "as": "suf"}], "mark": {"type": "text", "align": "left", "baseline": "alphabetic", "dx": -10, "dy": 21, "fontSize": 13.5, "fontStyle": "italic", "color": "black"}, "encoding": {"y": {"datum": 0, "type": "quantitative", "scale": {"domain": [0, 3], "nice": false}}, "text": {"field": "suf"}}}
     ],
     "resolve": {"scale": {"xOffset": "independent"}}
    }
   ],
   "spacing": 60,
   "bounds": "flush"
  }
 ]
}
